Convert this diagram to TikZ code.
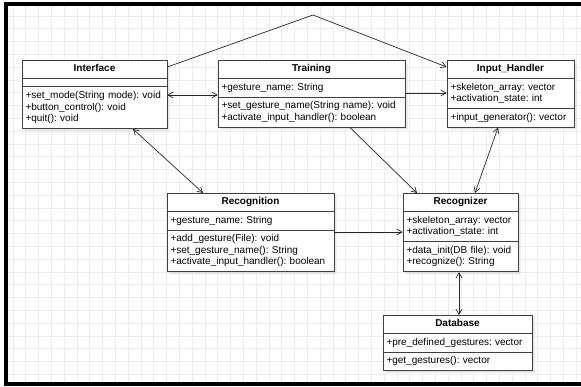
\documentclass[tikz,border=0pt]{standalone}
\usepackage{fontspec}
\setmainfont{Liberation Sans}
\usetikzlibrary{arrows.meta,shapes.multipart,shadows}
\newcommand{\classtitle}[1]{\hbox to\hsize{\hss\bfseries\rule[-4pt]{0pt}{10pt}#1\hss}}

\begin{document}
\begin{tikzpicture}[x=1pt,y=1pt,>={Straight Barb[angle=60:6pt]},
                    class/.style={rectangle split,rectangle split parts=3,
                      draw=black!75,line width=0.8pt,fill=white,anchor=north,
                      inner xsep=3.5pt,inner ysep=3pt,align=left,
                      font=\fontsize{10}{11.7}\selectfont\frenchspacing,
                      drop shadow={shadow xshift=2.5pt,shadow yshift=-2.5pt,fill=black!18}},
                    link/.style={draw=black!85,line width=0.7pt},
                    gridline/.style={draw=black!7,line width=0.5pt}]
  \useasboundingbox (0,0) rectangle (581,387);
  \draw[gridline] (5.5,2.5) grid[step=12.8] (581,382.5);
  \draw[line width=4pt] (581,382.5) -- (5.5,382.5) -- (5.5,2.5) -- (581,2.5);

  \node[class,text width=138pt] (if) at (94.5,327)
    {\classtitle{Interface}
     \nodepart{two}\rule{0pt}{1.5pt}
     \nodepart{three}\strut+set\_mode(String mode): void\\
     \strut+button\_control(): void\\
     \strut+quit(): void};
  \node[class,text width=180pt] (tr) at (311.5,327)
    {\classtitle{Training}
     \nodepart{two}\strut+gesture\_name: String
     \nodepart{three}\strut+set\_gesture\_name(String name): void\\
     \strut+activate\_input\_handler(): boolean};
  \node[class,text width=120pt] (ih) at (510.5,327)
    {\classtitle{Input\_Handler}
     \nodepart{two}\strut+skeleton\_array: vector\\
     \strut+activation\_state: int
     \nodepart{three}\strut+input\_generator(): vector};
  \node[class,text width=160pt] (rn) at (250.5,194)
    {\classtitle{Recognition}
     \nodepart{two}\strut+gesture\_name: String
     \nodepart{three}\strut+add\_gesture(File): void\\
     \strut+set\_gesture\_name(): String\\
     \strut+activate\_input\_handler(): boolean};
  \node[class,text width=108pt] (rz) at (460.5,194)
    {\classtitle{Recognizer}
     \nodepart{two}\strut+skeleton\_array: vector\\
     \strut+activation\_state: int
     \nodepart{three}\strut+data\_init(DB file): void\\
     \strut+recognize(): String};
  \node[class,text width=142pt] (db) at (457.5,72)
    {\classtitle{Database}
     \nodepart{two}\strut+pre\_defined\_gestures: vector
     \nodepart{three}\strut+get\_gestures(): vector};

  \coordinate (apex) at (313,372);

  \draw[link,->] ([yshift=-7pt]if.north east) -- (apex) -- ([yshift=-7pt]ih.north west);
  \draw[link,<->] ([yshift=-35pt]if.north east) -- ([yshift=-35pt]tr.north west);
  \draw[link,->] ([yshift=-33pt]tr.north east) -- ([yshift=-33pt]ih.north west);
  \draw[link,<->] ([xshift=38.5pt]if.south) -- ([xshift=-47.5pt]rn.north);
  \draw[link,->] ([xshift=38.5pt]tr.south) -- ([xshift=-43.5pt]rz.north);
  \draw[link,<->] ([xshift=-12.5pt]ih.south) -- ([xshift=14.5pt]rz.north);
  \draw[link,->] ([yshift=-39pt]rn.north east) -- ([yshift=-39pt]rz.north west);
  \draw[link,<->] ([xshift=-1.5pt]rz.south) -- ([xshift=1.5pt]db.north);
\end{tikzpicture}
\end{document}
